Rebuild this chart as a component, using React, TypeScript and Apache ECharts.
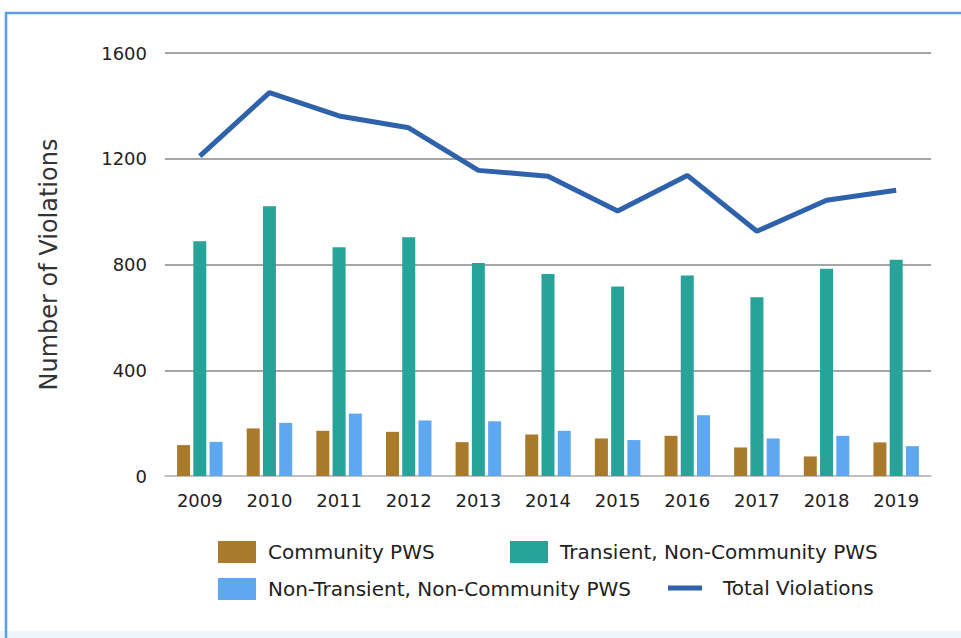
import React, { useEffect, useRef } from "react";
import * as echarts from "echarts";

const years = ["2009", "2010", "2011", "2012", "2013", "2014", "2015", "2016", "2017", "2018", "2019"];
const communityPWS = [117, 180, 171, 167, 128, 157, 142, 152, 108, 74, 127];
const transientNCPWS = [888, 1020, 865, 903, 806, 764, 717, 758, 676, 784, 818];
const nonTransientNCPWS = [129, 201, 236, 210, 207, 171, 136, 230, 142, 152, 113];
const totalViolations = [1210, 1450, 1362, 1317, 1156, 1134, 1002, 1137, 926, 1043, 1081];
const yTicks = [0, 400, 800, 1200, 1600];

const FONT = "DejaVu Sans";
const C_COMM = "#a97a2b";
const C_TRANS = "#27a39a";
const C_NONTRANS = "#5ea8f2";
const C_TOTAL = "#2e62ab";

export default function App() {
  const ref = useRef<HTMLDivElement>(null);
  useEffect(() => {
    document.body.style.margin = "0";
    const chart = echarts.init(ref.current!, undefined, { renderer: "svg" });
    const legendBase = {
      orient: "horizontal",
      padding: 0,
      itemWidth: 38,
      itemHeight: 22,
      textStyle: { fontFamily: FONT, fontSize: 20, color: "#222", padding: [0, 0, 0, 7] },
    };
    chart.setOption({
      animation: false,
      backgroundColor: "#ffffff",
      textStyle: { fontFamily: FONT },
      grid: { left: 165, right: 30, top: 53, bottom: 162, containLabel: false },
      xAxis: {
        type: "category",
        data: years,
        axisLine: { lineStyle: { color: "#c8c8c8", width: 1.5 } },
        axisTick: { show: false },
        axisLabel: { fontFamily: FONT, fontSize: 18, color: "#222", margin: 15 },
      },
      yAxis: {
        type: "value",
        min: yTicks[0],
        max: yTicks[yTicks.length - 1],
        interval: 400,
        name: "Number of Violations",
        nameLocation: "middle",
        nameGap: 104,
        nameTextStyle: { fontFamily: FONT, fontSize: 24, color: "#333" },
        axisLine: { show: false },
        axisTick: { show: false },
        axisLabel: { fontFamily: FONT, fontSize: 18, color: "#222", margin: 18, formatter: (v: number) => String(v) },
        splitLine: { lineStyle: { color: "#a6a6a6", width: 2 } },
      },
      legend: [
        { ...legendBase, left: 218, top: 541, data: [{ name: "Community PWS", icon: "rect" }] },
        { ...legendBase, left: 510, top: 541, data: [{ name: "Transient, Non-Community PWS", icon: "rect" }] },
        { ...legendBase, left: 218, top: 578, data: [{ name: "Non-Transient, Non-Community PWS", icon: "rect" }] },
        {
          ...legendBase,
          left: 668,
          top: 578,
          itemWidth: 34,
          itemHeight: 5,
          textStyle: { ...legendBase.textStyle, padding: [0, 0, 0, 16] },
          data: [{ name: "Total Violations", icon: "rect", itemStyle: { color: C_TOTAL } }],
        },
      ],
      series: [
        {
          name: "Community PWS",
          type: "bar",
          data: communityPWS,
          barWidth: 13,
          barGap: "25%",
          itemStyle: { color: C_COMM },
        },
        {
          name: "Transient, Non-Community PWS",
          type: "bar",
          data: transientNCPWS,
          barWidth: 13,
          barGap: "25%",
          itemStyle: { color: C_TRANS },
        },
        {
          name: "Non-Transient, Non-Community PWS",
          type: "bar",
          data: nonTransientNCPWS,
          barWidth: 13,
          barGap: "25%",
          itemStyle: { color: C_NONTRANS },
        },
        {
          name: "Total Violations",
          type: "line",
          data: totalViolations,
          symbol: "none",
          lineStyle: { color: C_TOTAL, width: 5 },
          itemStyle: { color: C_TOTAL },
          z: 5,
        },
      ],
      graphic: [
        { type: "rect", shape: { x: 0, y: 631, width: 961, height: 7 }, style: { fill: "#eef6fd" }, silent: true },
        { type: "line", shape: { x1: 5, y1: 13, x2: 961, y2: 13 }, style: { stroke: "#5c9be6", lineWidth: 2.5 }, silent: true },
        { type: "line", shape: { x1: 6, y1: 12, x2: 6, y2: 638 }, style: { stroke: "#5c9be6", lineWidth: 2.5 }, silent: true },
      ],
    });
    return () => chart.dispose();
  }, []);
  return <div ref={ref} style={{ width: 961, height: 638 }} />;
}
